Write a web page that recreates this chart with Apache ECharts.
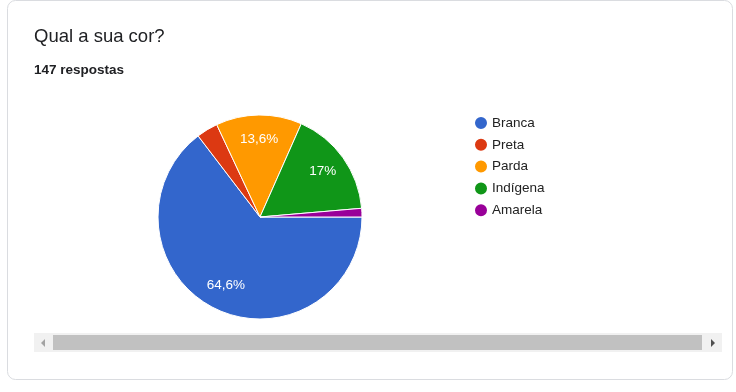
<!DOCTYPE html>
<html><head><meta charset="utf-8">
<script src="https://cdn.jsdelivr.net/npm/echarts@6/dist/echarts.min.js"></script>
<style>html,body{margin:0;padding:0;background:#fff}#c{width:736px;height:392px}</style>
</head><body><div id="c"></div>
<script>
const titleText = 'Qual a sua cor?';
const subtitleText = '147 respostas';
const categories = ['Branca', 'Preta', 'Parda', 'Indígena', 'Amarela'];
const counts = [95, 5, 20, 25, 2];
const colors = ['#3366cc', '#dc3912', '#ff9900', '#109618', '#990099'];

const total = counts.reduce((a, b) => a + b, 0);
function pctLabel(v) {
  const p = Math.round(v / total * 1000) / 10;
  return (Number.isInteger(p) ? String(p) : p.toFixed(1).replace('.', ',')) + '%';
}
const font = '"Liberation Sans", Arial, sans-serif';
const baseData = categories.map((n, i) => ({ name: n, value: counts[i], itemStyle: { color: colors[i] } }));
const labelData = categories.map((n, i) => ({
  name: n, value: counts[i],
  itemStyle: { color: 'rgba(0,0,0,0)', borderWidth: 0 },
  label: { show: counts[i] / total > 0.05 }
}));

const chart = echarts.init(document.getElementById('c'), null, { renderer: 'canvas' });
chart.setOption({
  animation: false,
  backgroundColor: '#ffffff',
  title: [
    { text: titleText, left: 34, top: 27, padding: 0, textStyle: { fontFamily: font, fontSize: 18.5, fontWeight: 'normal', color: '#202124' } },
    { text: subtitleText, left: 34, top: 63, padding: 0, textStyle: { fontFamily: font, fontSize: 13.5, fontWeight: 'bold', color: '#202124' } }
  ],
  legend: {
    orient: 'vertical', left: 473, top: 115, padding: 0,
    icon: 'circle', itemWidth: 14, itemHeight: 14, itemGap: 5.8,
    data: categories,
    textStyle: { fontFamily: font, fontSize: 13.5, color: '#222222', padding: [0, 0, 0, -1] },
    selectedMode: false
  },
  graphic: [
    { type: 'rect', z: -10, shape: { x: 7.5, y: 0.5, width: 725, height: 379, r: 8 }, style: { fill: '#ffffff', stroke: '#dadce0', lineWidth: 1 } },
    { type: 'rect', shape: { x: 34, y: 333, width: 688, height: 19 }, style: { fill: '#f1f1f1' } },
    { type: 'rect', shape: { x: 53, y: 335, width: 649, height: 15 }, style: { fill: '#c1c1c1' } },
    { type: 'polygon', shape: { points: [[45, 339], [45, 347], [41, 343]] }, style: { fill: '#a3a3a3' } },
    { type: 'polygon', shape: { points: [[711, 339], [711, 347], [715, 343]] }, style: { fill: '#505050' } }
  ],
  series: [
    {
      type: 'pie', center: [260, 217], radius: 102, startAngle: 0, clockwise: true,
      silent: true, label: { show: false }, labelLine: { show: false },
      itemStyle: { borderColor: '#ffffff', borderWidth: 1 },
      emphasis: { disabled: true },
      data: baseData
    },
    {
      type: 'pie', center: [260, 216], radius: [46, 102], startAngle: 0, clockwise: true,
      silent: true, labelLine: { show: false }, emphasis: { disabled: true },
      label: { position: 'inside', color: '#ffffff', fontFamily: font, fontSize: 13.5,
        formatter: p => pctLabel(p.value) },
      data: labelData
    }
  ]
});
</script></body></html>
